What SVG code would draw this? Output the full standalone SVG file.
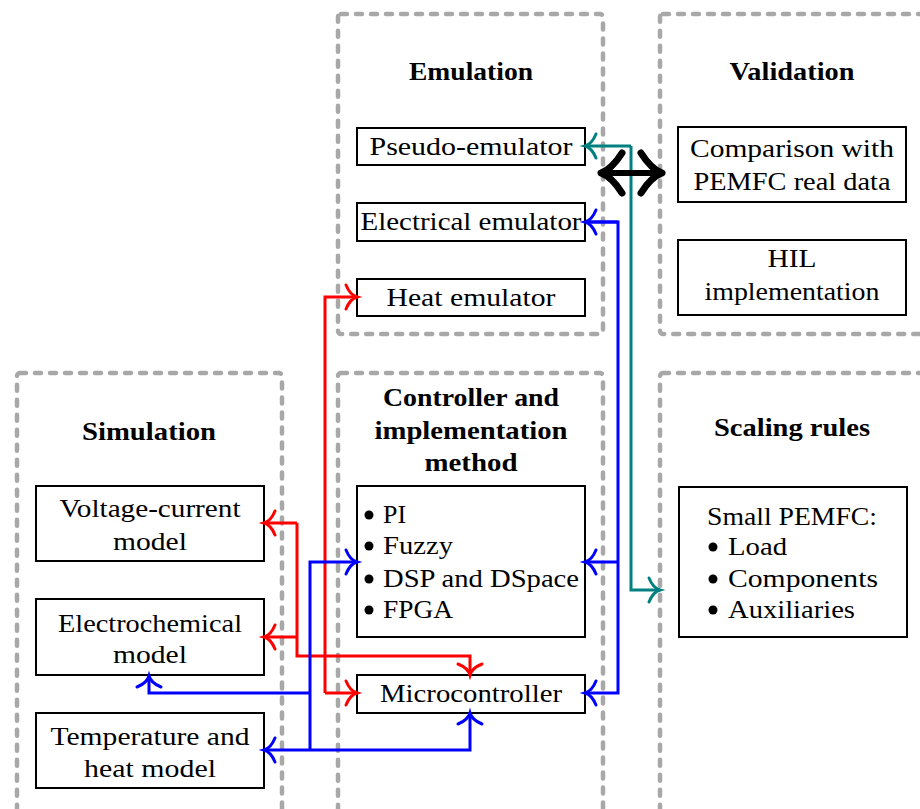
<svg xmlns="http://www.w3.org/2000/svg" width="920" height="809" viewBox="0 0 920 809">
<style>
.grp{fill:none;stroke:#a8a8a8;stroke-width:4.5;stroke-dasharray:6 9;stroke-linecap:round;stroke-linejoin:round}
.box{fill:#ffffff;stroke:#000000;stroke-width:2}
text{font-family:"Liberation Serif","Times New Roman",serif;font-size:25px;fill:#000000}
.c{text-anchor:middle}
.h{font-weight:bold}
.w{fill:none;stroke-width:3;stroke-linejoin:miter}
.red{stroke:#ff0000}
.blue{stroke:#0000ff}
.teal{stroke:#008080}
.bul{fill:#000000}
</style>
<defs>
<marker id="aR" markerUnits="userSpaceOnUse" viewBox="-14 -14 16 28" refX="0" refY="0" markerWidth="16" markerHeight="28" orient="auto" overflow="visible"><path d="M-11,-12 Q-7,-2 0,0 Q-7,2 -11,12" fill="none" stroke="#ff0000" stroke-width="3" stroke-linecap="round"/></marker>
<marker id="aB" markerUnits="userSpaceOnUse" viewBox="-14 -14 16 28" refX="0" refY="0" markerWidth="16" markerHeight="28" orient="auto" overflow="visible"><path d="M-11,-12 Q-7,-2 0,0 Q-7,2 -11,12" fill="none" stroke="#0000ff" stroke-width="3" stroke-linecap="round"/></marker>
<marker id="aT" markerUnits="userSpaceOnUse" viewBox="-14 -14 16 28" refX="0" refY="0" markerWidth="16" markerHeight="28" orient="auto" overflow="visible"><path d="M-11,-12 Q-7,-2 0,0 Q-7,2 -11,12" fill="none" stroke="#008080" stroke-width="3" stroke-linecap="round"/></marker>
</defs>
<rect width="920" height="809" fill="#ffffff"/>

<g id="emulation">
<rect class="grp" x="338" y="14" width="265" height="320" rx="3"/>
<text class="c h" x="471" y="80" textLength="124" lengthAdjust="spacingAndGlyphs">Emulation</text>
</g>
<g id="validation">
<rect class="grp" x="660" y="14" width="280" height="320" rx="3"/>
<text class="c h" x="792" y="80" textLength="125" lengthAdjust="spacingAndGlyphs">Validation</text>
</g>
<g id="simulation">
<rect class="grp" x="17" y="373" width="265" height="445" rx="3"/>
<text class="c h" x="149" y="440" textLength="134" lengthAdjust="spacingAndGlyphs">Simulation</text>
</g>
<g id="controller">
<rect class="grp" x="338" y="373" width="265" height="445" rx="3"/>
<text class="c h" x="471" y="406" textLength="176" lengthAdjust="spacingAndGlyphs">Controller and</text>
<text class="c h" x="471" y="439" textLength="193" lengthAdjust="spacingAndGlyphs">implementation</text>
<text class="c h" x="471" y="471" textLength="93" lengthAdjust="spacingAndGlyphs">method</text>
</g>
<g id="scaling">
<rect class="grp" x="660" y="373" width="280" height="445" rx="3"/>
<text class="c h" x="792" y="436" textLength="156" lengthAdjust="spacingAndGlyphs">Scaling rules</text>
</g>

<g id="pseudo-emulator">
<rect class="box" x="357" y="128" width="228" height="37"/>
<text class="c" x="471" y="155" textLength="203" lengthAdjust="spacingAndGlyphs">Pseudo-emulator</text>
</g>
<g id="electrical-emulator">
<rect class="box" x="357" y="203" width="228" height="38"/>
<text class="c" x="471" y="230" textLength="221" lengthAdjust="spacingAndGlyphs">Electrical emulator</text>
</g>
<g id="heat-emulator">
<rect class="box" x="357" y="279" width="228" height="37"/>
<text class="c" x="471" y="306" textLength="169" lengthAdjust="spacingAndGlyphs">Heat emulator</text>
</g>
<g id="comparison">
<rect class="box" x="678" y="127" width="228" height="75"/>
<text class="c" x="792" y="157" textLength="204" lengthAdjust="spacingAndGlyphs">Comparison with</text>
<text class="c" x="792" y="190" textLength="197" lengthAdjust="spacingAndGlyphs">PEMFC real data</text>
</g>
<g id="hil">
<rect class="box" x="678" y="240" width="228" height="75"/>
<text class="c" x="792" y="267" textLength="49" lengthAdjust="spacingAndGlyphs">HIL</text>
<text class="c" x="792" y="300" textLength="175" lengthAdjust="spacingAndGlyphs">implementation</text>
</g>
<g id="voltage-current">
<rect class="box" x="36" y="486" width="228" height="75"/>
<text class="c" x="150" y="517" textLength="181" lengthAdjust="spacingAndGlyphs">Voltage-current</text>
<text class="c" x="150" y="550" textLength="74" lengthAdjust="spacingAndGlyphs">model</text>
</g>
<g id="electrochemical">
<rect class="box" x="36" y="599" width="228" height="76"/>
<text class="c" x="150" y="632" textLength="184" lengthAdjust="spacingAndGlyphs">Electrochemical</text>
<text class="c" x="150" y="663" textLength="74" lengthAdjust="spacingAndGlyphs">model</text>
</g>
<g id="temperature">
<rect class="box" x="36" y="713" width="228" height="75"/>
<text class="c" x="150" y="745" textLength="199" lengthAdjust="spacingAndGlyphs">Temperature and</text>
<text class="c" x="150" y="777" textLength="132" lengthAdjust="spacingAndGlyphs">heat model</text>
</g>
<g id="methods">
<rect class="box" x="357" y="486" width="228" height="151"/>
<circle class="bul" cx="369" cy="515" r="4.5"/>
<circle class="bul" cx="369" cy="546" r="4.5"/>
<circle class="bul" cx="369" cy="579" r="4.5"/>
<circle class="bul" cx="369" cy="610" r="4.5"/>
<text x="383" y="523" textLength="23" lengthAdjust="spacingAndGlyphs">PI</text>
<text x="383" y="554" textLength="70" lengthAdjust="spacingAndGlyphs">Fuzzy</text>
<text x="383" y="587" textLength="196" lengthAdjust="spacingAndGlyphs">DSP and DSpace</text>
<text x="383" y="618" textLength="70" lengthAdjust="spacingAndGlyphs">FPGA</text>
</g>
<g id="microcontroller">
<rect class="box" x="357" y="675" width="228" height="38"/>
<text class="c" x="471" y="702" textLength="182" lengthAdjust="spacingAndGlyphs">Microcontroller</text>
</g>
<g id="small-pemfc">
<rect class="box" x="679" y="487" width="228" height="150"/>
<text x="707" y="525" textLength="170" lengthAdjust="spacingAndGlyphs">Small PEMFC:</text>
<circle class="bul" cx="713" cy="547" r="4.5"/>
<circle class="bul" cx="713" cy="579" r="4.5"/>
<circle class="bul" cx="713" cy="610" r="4.5"/>
<text x="728" y="555" textLength="59" lengthAdjust="spacingAndGlyphs">Load</text>
<text x="728" y="587" textLength="150" lengthAdjust="spacingAndGlyphs">Components</text>
<text x="728" y="618" textLength="127" lengthAdjust="spacingAndGlyphs">Auxiliaries</text>
</g>

<g id="connectors">
<path class="w red" d="M325,693 V297 H357" marker-end="url(#aR)"/>
<path class="w red" d="M325,693 H357" marker-end="url(#aR)"/>
<path class="w red" d="M297,523 H264" marker-end="url(#aR)"/>
<path class="w red" d="M297,637 H264" marker-end="url(#aR)"/>
<path class="w red" d="M297,523 V656 H470 V675" marker-end="url(#aR)"/>
<path class="w blue" d="M310,750 V562 H357" marker-end="url(#aB)"/>
<path class="w blue" d="M310,693 H149 V676" marker-end="url(#aB)"/>
<path class="w blue" d="M310,750 H264" marker-end="url(#aB)"/>
<path class="w blue" d="M310,750 H470 V713" marker-end="url(#aB)"/>
<path class="w blue" d="M585,222 H618 V693 H585" marker-end="url(#aB)"/>
<path class="w blue" d="M618,562 H585" marker-end="url(#aB)"/>
<path class="w blue" d="M618,222 H585" marker-end="url(#aB)"/>
<path class="w teal" d="M631,146 H585" marker-end="url(#aT)"/>
<path class="w teal" d="M631,146 V590 H660" marker-end="url(#aT)"/>
<path d="M603,173 H660" fill="none" stroke="#000000" stroke-width="6"/>
<path d="M622,153 Q612,169 601,173 Q612,177 622,193" fill="none" stroke="#000000" stroke-width="7" stroke-linecap="round" stroke-linejoin="round"/>
<path d="M641,153 Q651,169 662,173 Q651,177 641,193" fill="none" stroke="#000000" stroke-width="7" stroke-linecap="round" stroke-linejoin="round"/>
</g>
</svg>
